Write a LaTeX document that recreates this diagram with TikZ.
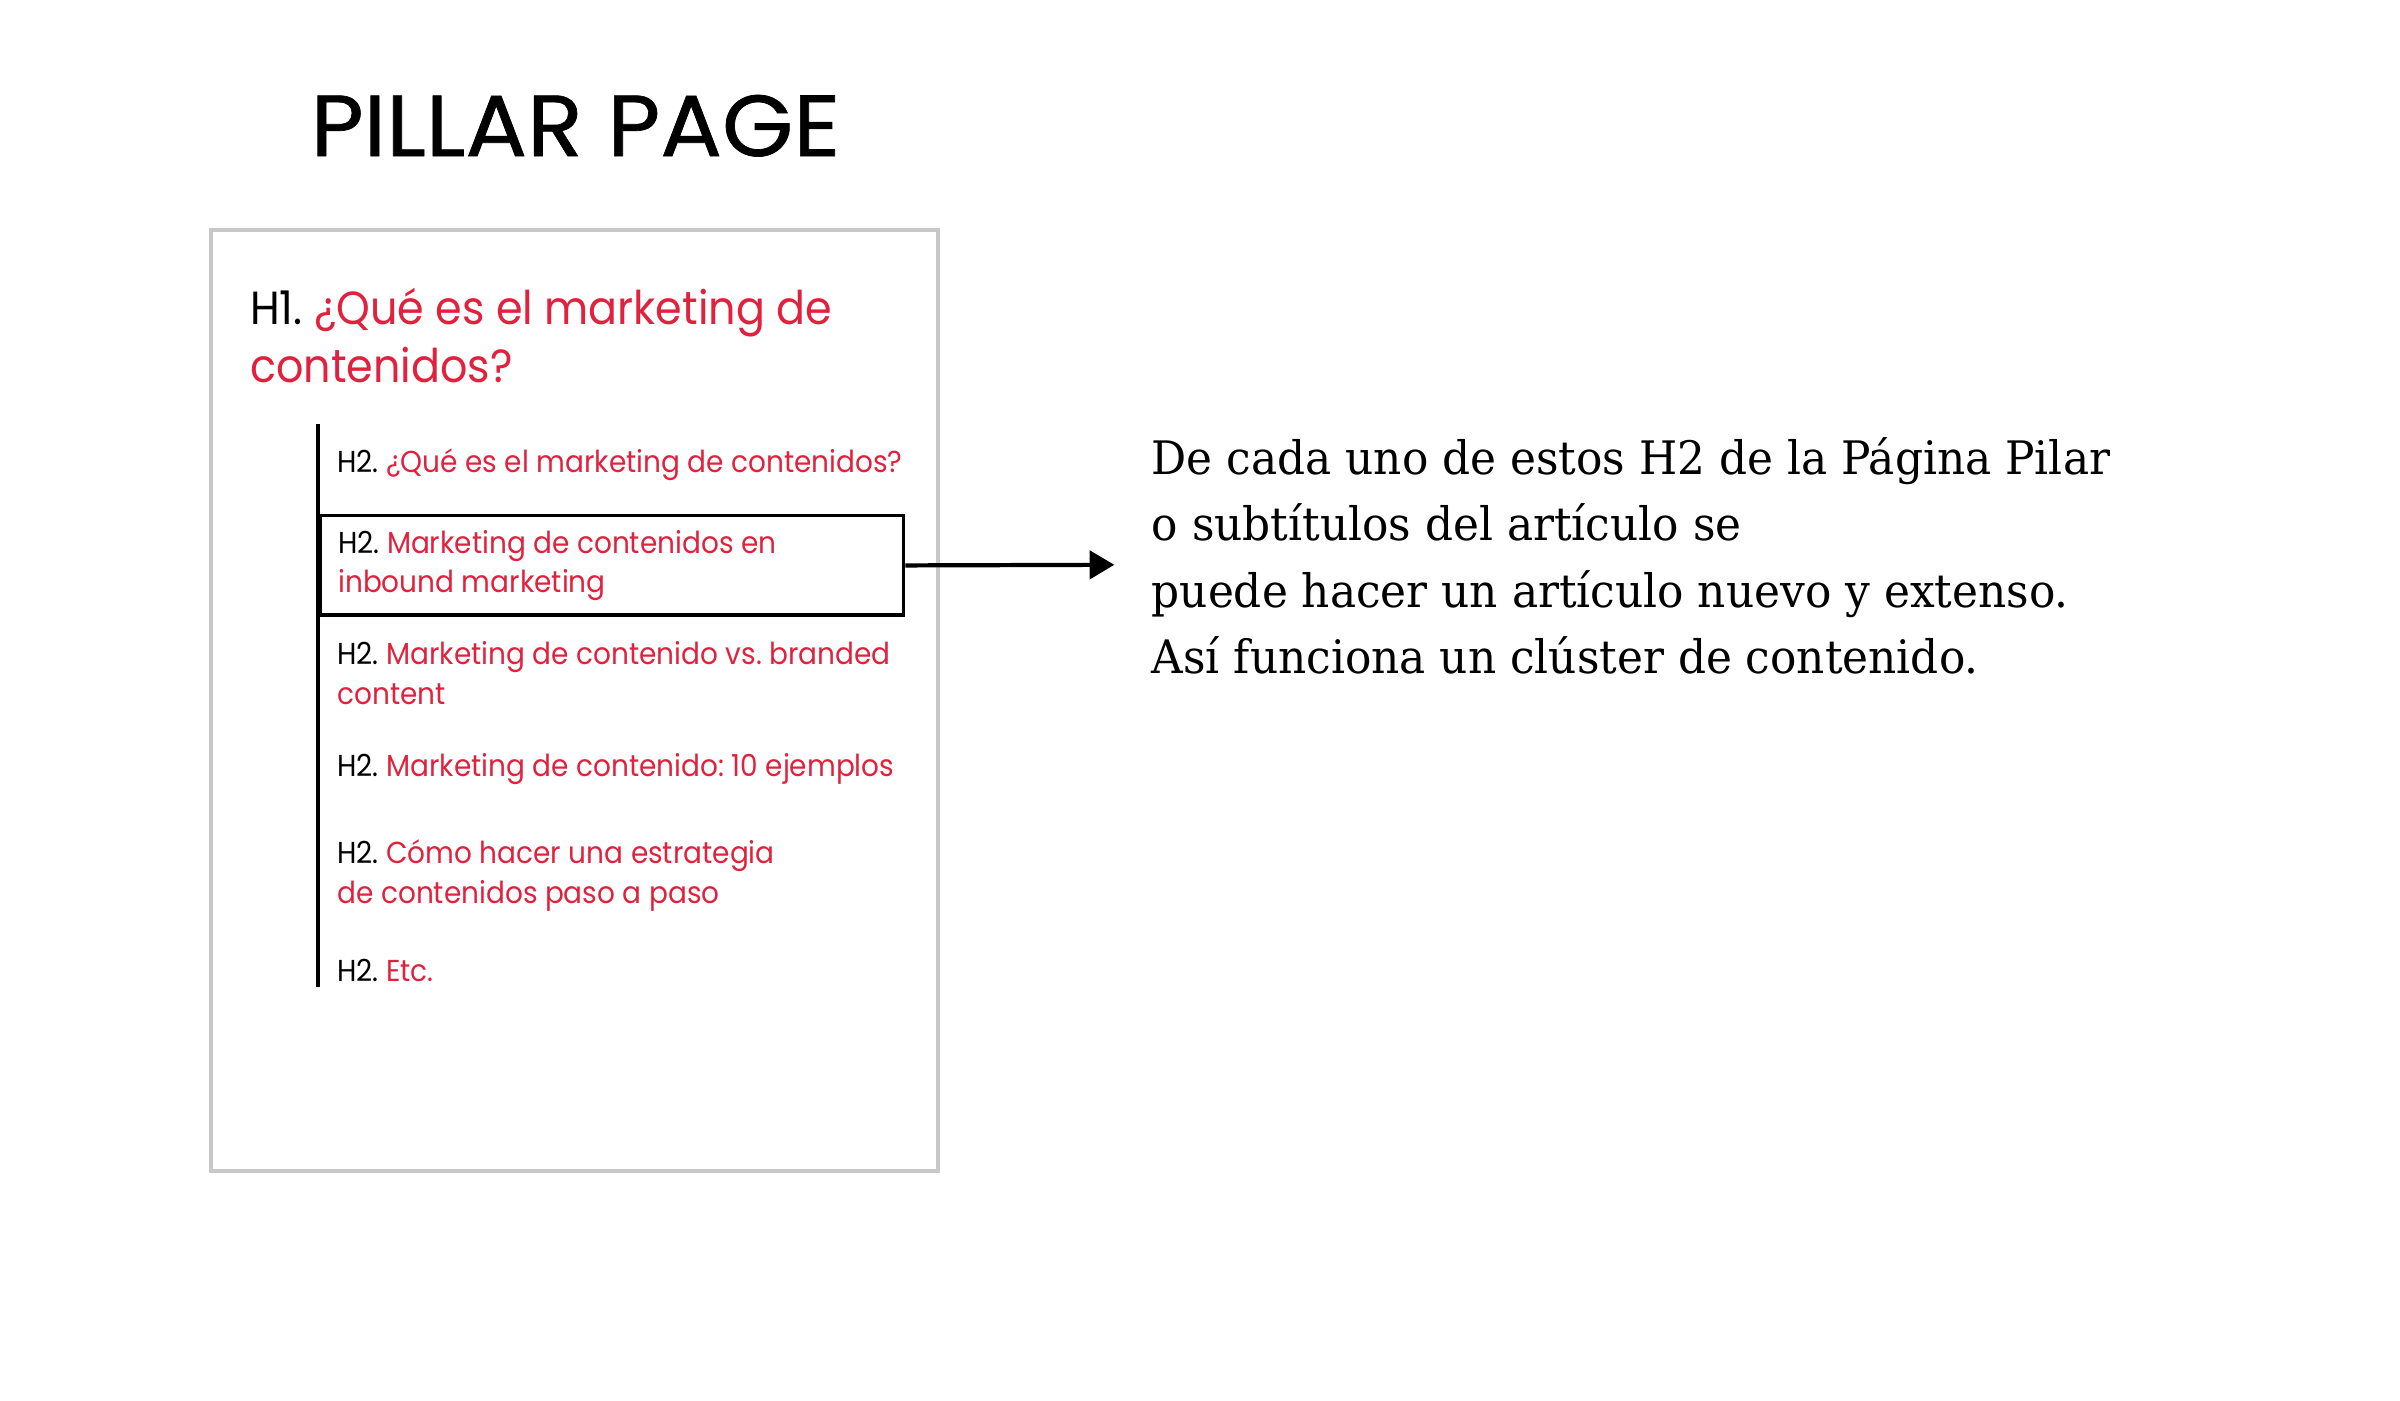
\documentclass[tikz,border=0pt]{standalone}
\usepackage{fontspec}
\usepackage{tikz}
\usetikzlibrary{positioning,arrows.meta}

\newfontfamily\pillarfont[FakeStretch=0.923]{Poppins}
\newfontfamily\titlefont[FakeStretch=1.055,FakeBold=0.8]{Poppins}
\newfontfamily\notefont[FakeStretch=0.95]{DejaVu Serif}
\definecolor{headred}{RGB}{224,34,62}
\definecolor{pagegray}{RGB}{200,200,200}
\frenchspacing

\tikzset{
  h2item/.style={anchor=base west, inner sep=0pt, align=flush left,
    font=\pillarfont\fontsize{8.62}{11.26}\selectfont},
}
\newcommand{\htwo}[1]{H2. \textcolor{headred}{#1}}

\begin{document}
\begin{tikzpicture}[x=0.015306cm, y=-0.015306cm]
\useasboundingbox (0,0) rectangle (1568,914.7);

% page
\draw[pagegray, line width=1.1pt] (138,150) rectangle (613,765);

% nodes
\node[anchor=base, inner sep=0pt, font=\titlefont\fontsize{24.7}{24.7}\selectfont] (title) at (376,102) {PILLAR PAGE};
\node[anchor=base west, inner sep=0pt, align=left, font=\pillarfont\fontsize{13.22}{16.5}\selectfont] (h1) at (163,250)
  {H1. \textcolor{headred}{¿Qué es el marketing de}\\\textcolor{headred}{contenidos?}};

\node[h2item] (q1) at (220,309) {\htwo{¿Qué es el marketing de contenidos?}};
\node[h2item, anchor=north west, draw, line width=0.9pt, inner xsep=5.2pt, inner ysep=0pt,
  minimum width=166.1pt, minimum height=28.2pt, text width=155.7pt] (q2) at (208,336)
  {\htwo{Marketing de contenidos en}\\\textcolor{headred}{inbound marketing}};
\node[h2item] (q3) at (220,460) {\htwo{Marketing de contenido vs. branded}\\\textcolor{headred}{content}};
\node[h2item] (q4) at (220,507) {\htwo{Marketing de contenido: 10 ejemplos}};
\node[h2item] (q5) at (220,590) {\htwo{Cómo hacer una estrategia}\\\textcolor{headred}{de contenidos paso a paso}};
\node[h2item] (q6) at (220,641) {\htwo{Etc.}};

\node[anchor=base west, inner sep=0pt, align=left, font=\notefont\fontsize{13.13}{18.86}\selectfont] (note) at (752,440)
  {De cada uno de estos H2 de la Página Pilar\\o subtítulos del artículo se\\puede hacer un artículo nuevo y extenso.\\Así funciona un clúster de contenido.};

\coordinate (railtop) at (208,277);
\coordinate (railend) at (208,645);
\coordinate (tip) at (728,369);

% arrows
\draw[line width=1.2pt] (railtop) -- (railend);
\draw[-{Triangle[length=7pt,width=8pt]}, line width=1.2pt] (q2.east) -- (tip);

\end{tikzpicture}
\end{document}
